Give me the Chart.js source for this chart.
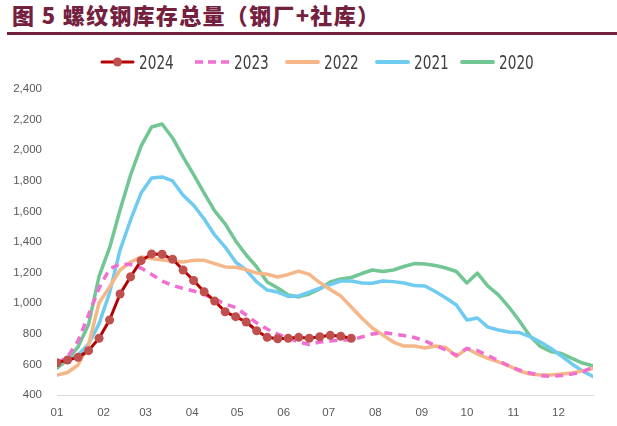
<!DOCTYPE html>
<html><head><meta charset="utf-8">
<script src="https://cdn.jsdelivr.net/npm/chart.js@4"></script>
<style>
html,body{margin:0;padding:0;background:#fff;}
#wrap{position:relative;width:617px;height:426px;overflow:hidden;background:#fff;}
#title{position:absolute;left:12px;top:0px;font-family:"Noto Sans CJK SC",sans-serif;font-weight:900;font-size:22px;color:#74203f;letter-spacing:1.3px;white-space:nowrap;line-height:28px;}
#rule{position:absolute;left:7px;right:0;top:32px;height:3px;background:#74203f;}
#chart{position:absolute;left:0;top:0;}
.lg{position:absolute;top:51px;height:22px;display:flex;align-items:center;font-family:"Liberation Sans Narrow","DejaVu Sans Condensed","DejaVu Sans",sans-serif;font-size:19px;color:#404040;white-space:nowrap;}
.lg svg{margin-right:4px;display:block;}
.lg span{display:inline-block;transform:scaleX(0.8);transform-origin:0 50%;}
</style></head>
<body>
<div id="wrap">
  <div id="title">图 5 螺纹钢库存总量（钢厂+社库）</div>
  <div id="rule"></div>
  <canvas id="chart" width="617" height="426"></canvas>
  <div id="legend"></div>
</div>
<script>
// ---- data ----
const seriesNames = ['2024','2023','2022','2021','2020'];
const monthLabels = ['01','02','03','04','05','06','07','08','09','10','11','12'];
const monthStartDays = [0,31,59,90,120,151,181,212,243,273,304,334];
const yTicks = [400,600,800,1000,1200,1400,1600,1800,2000,2200,2400];

const w2024 = [611,629,646,690,771,890,1060,1173,1278,1322,1320,1287,1217,1148,1075,1014,944,912,877,820,777,768,771,777,771,781,790,784,771];
const w2023 = [609,648,753,923,1099,1224,1256,1253,1230,1188,1145,1116,1096,1080,1057,1027,995,972,923,871,831,798,773,746,730,746,753,759,759,779,799,808,799,789,776,753,724,694,661,704,691,658,625,590,563,544,527,521,527,537,550,583];
const w2022 = [531,547,596,727,1001,1106,1217,1269,1302,1292,1282,1276,1269,1280,1280,1259,1237,1235,1220,1197,1189,1171,1188,1210,1188,1135,1090,1047,975,903,838,792,746,720,720,707,720,710,652,704,668,639,616,590,557,537,531,531,537,544,557,573];
const w2021 = [609,622,661,733,865,1067,1348,1544,1720,1818,1825,1799,1705,1640,1550,1446,1367,1269,1217,1139,1086,1073,1044,1047,1073,1099,1122,1145,1145,1132,1130,1145,1141,1132,1116,1112,1076,1034,988,890,903,844,825,812,808,782,746,704,655,603,557,521];
const w2020 = [576,629,714,860,1175,1361,1609,1838,2027,2152,2171,2080,1956,1840,1720,1603,1518,1407,1315,1237,1139,1099,1054,1041,1060,1093,1139,1158,1168,1194,1217,1207,1217,1240,1259,1256,1246,1230,1207,1132,1197,1112,1054,975,884,786,717,684,671,639,609,590];

const seriesValues = [w2024,w2023,w2022,w2021,w2020];
const styles = [
  {color:'#b40000', width:3, dash:[], point:true, pointColor:'#c0504d'},
  {color:'#f06fd0', width:3.5, dash:[8,6]},
  {color:'#f6b788', width:3.5, dash:[]},
  {color:'#6fcbf0', width:3.5, dash:[]},
  {color:'#72c693', width:3.5, dash:[]}
];

const datasets = seriesValues.map((vals,k)=>{
  const s = styles[k];
  return {
    label: seriesNames[k],
    data: vals.map((v,i)=>({x:i,y:v})),
    borderColor: s.color,
    borderWidth: s.width,
    borderDash: s.dash,
    borderCapStyle: 'round',
    borderJoinStyle: 'round',
    tension: 0,
    fill: false,
    pointRadius: s.point ? 4.5 : 0,
    pointHoverRadius: s.point ? 4.5 : 0,
    pointBackgroundColor: s.pointColor || s.color,
    pointBorderColor: s.pointColor || s.color,
    pointBorderWidth: 0
  };
});
datasets[1].borderCapStyle = 'butt';

const tickFont = {family:'"Liberation Sans", Arial, sans-serif', size:11.5};

new Chart(document.getElementById('chart'), {
  type:'line',
  data:{datasets},
  options:{
    responsive:false,
    animation:false,
    layout:{padding:{left:0,right:24,top:89,bottom:0}},
    plugins:{legend:{display:false}, tooltip:{enabled:false}, title:{display:false}},
    scales:{
      x:{
        type:'linear', min:0, max:51,
        grid:{display:false, drawTicks:false},
        border:{display:true, color:'#d9d9d9', width:1},
        afterBuildTicks:(s)=>{ s.ticks = monthStartDays.map(d=>({value:d/7})); },
        ticks:{autoSkip:false, maxRotation:0, minRotation:0, padding:11, color:'#595959', font:tickFont,
          callback:(v,i)=>monthLabels[i]},
        afterFit:(s)=>{ s.height = 31; }
      },
      y:{
        min:400, max:2400,
        afterBuildTicks:(s)=>{ s.ticks = yTicks.map(v=>({value:v})); },
        grid:{display:false, drawTicks:false},
        border:{display:false},
        ticks:{padding:15, color:'#595959', font:tickFont,
          callback:(v)=>Number(v).toLocaleString('en-US')},
        afterFit:(s)=>{ s.width = 57; }
      }
    }
  }
});

// ---- HTML legend ----
const legendLefts = [100,195,285,375,460];
const lg = document.getElementById('legend');
seriesNames.forEach((name,k)=>{
  const s = styles[k];
  const d = document.createElement('div');
  d.className = 'lg';
  d.style.left = legendLefts[k] + 'px';
  let svg = '<svg width="35" height="12" viewBox="0 0 35 12">';
  if (s.dash.length) {
    svg += '<line x1="0" y1="6" x2="35" y2="6" stroke="'+s.color+'" stroke-width="'+s.width+'" stroke-dasharray="8,5"/>';
  } else {
    svg += '<line x1="2" y1="6" x2="33" y2="6" stroke="'+s.color+'" stroke-width="'+(s.point?3:4)+'" stroke-linecap="round"/>';
  }
  if (s.point) svg += '<circle cx="17.5" cy="6" r="4.5" fill="'+s.pointColor+'"/>';
  svg += '</svg>';
  d.innerHTML = svg + '<span>' + name + '</span>';
  lg.appendChild(d);
});
</script>
</body></html>
